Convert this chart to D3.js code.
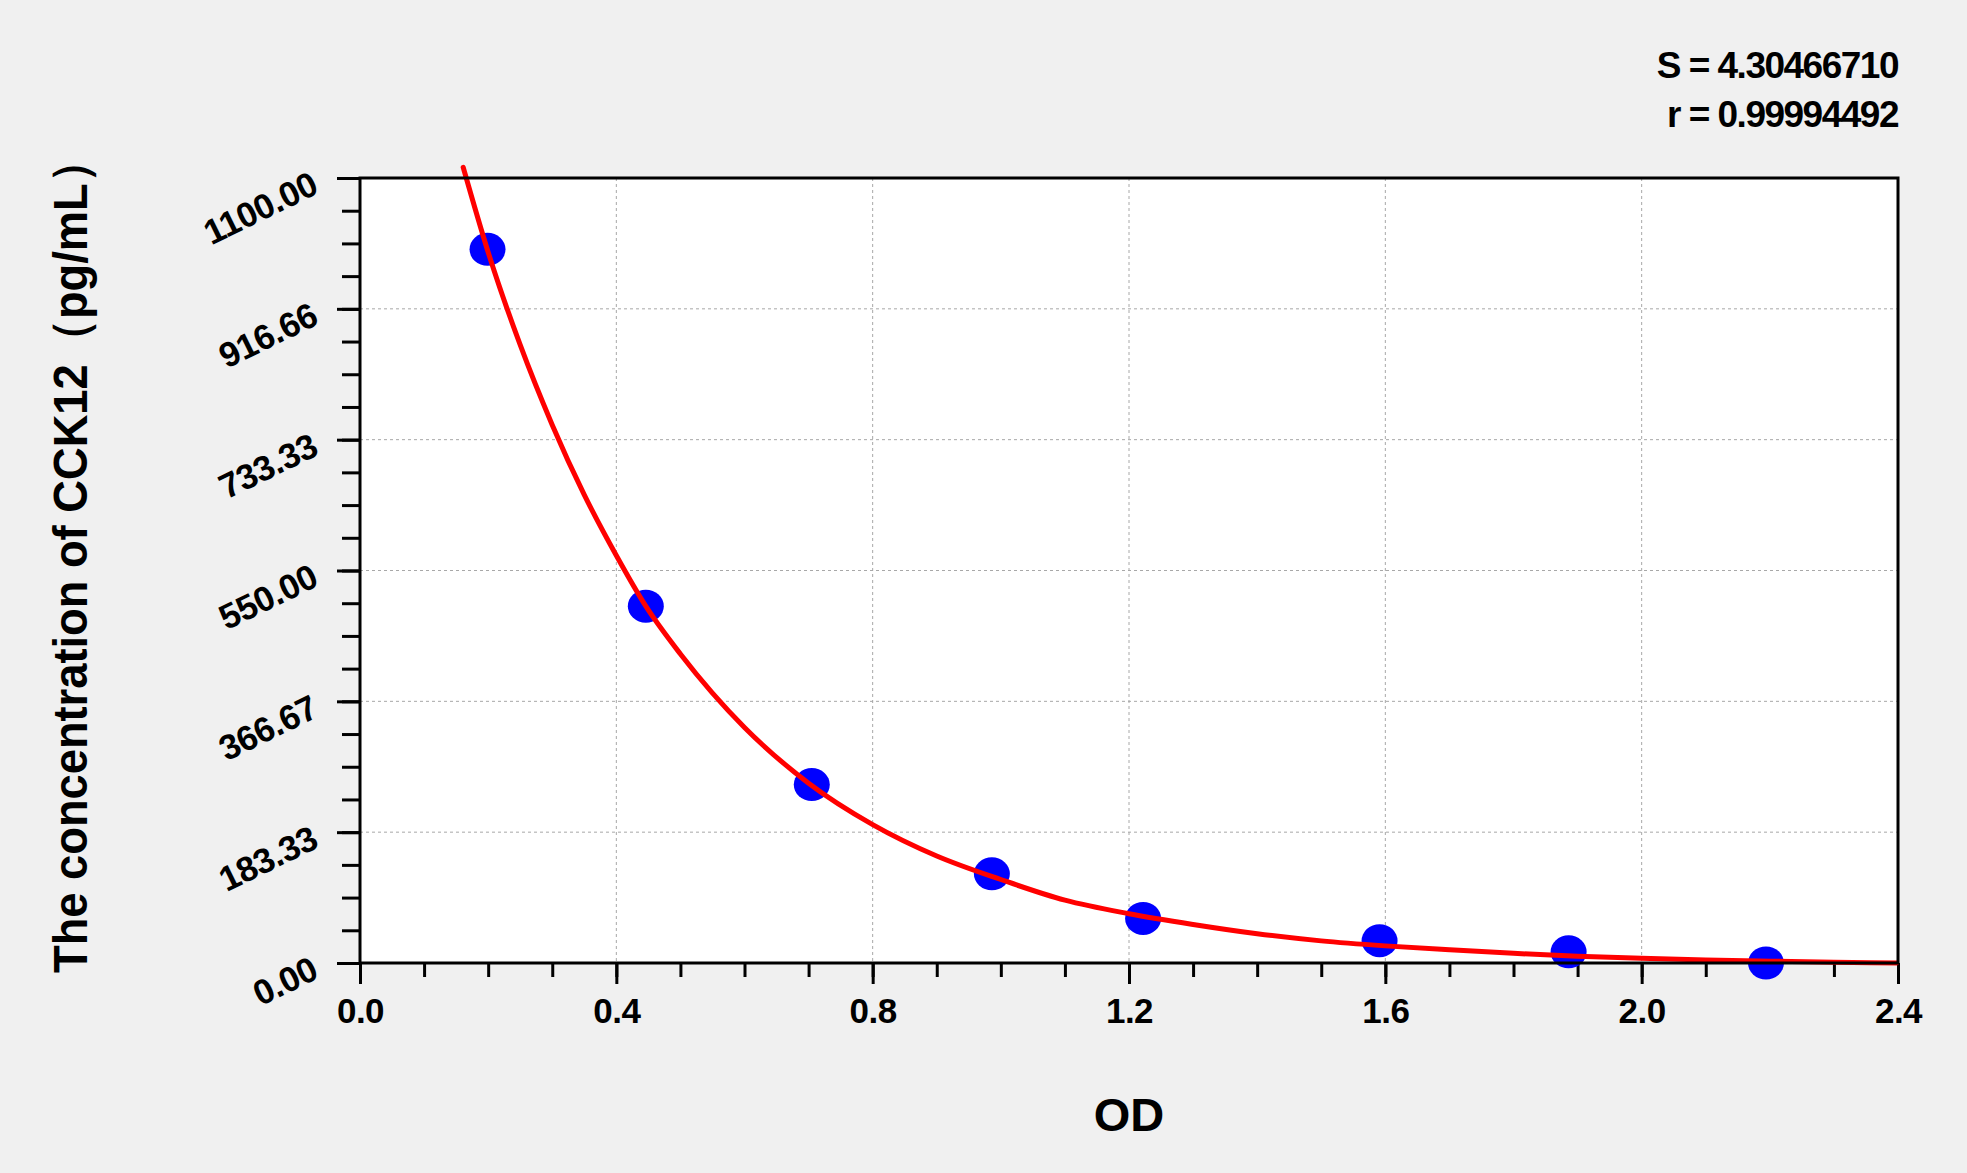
<!DOCTYPE html>
<html>
<head>
<meta charset="utf-8">
<script src="https://cdn.jsdelivr.net/npm/d3@7.9.0/dist/d3.min.js"></script>
<style>
  html, body { margin: 0; padding: 0; background: #f0f0f0; }
  svg { display: block; font-family: "Liberation Sans", Arial, sans-serif; }
</style>
</head>
<body>
<div id="chart"></div>
<script>
// standards: OD vs concentration
const odValues   = [0.199, 0.446, 0.705, 0.986, 1.222, 1.591, 1.886, 2.194];
const concValues = [1000, 500, 250, 125, 62.5, 31.25, 15.63, 0];

// fitted curve
const curveOD   = [0.161, 0.200, 0.250, 0.300, 0.350, 0.400, 0.446, 0.500, 0.600, 0.700, 0.800, 0.900, 1.000, 1.100, 1.200, 1.300, 1.400, 1.500, 1.600, 1.700, 1.800, 1.900, 2.000, 2.100, 2.200, 2.300, 2.398];
const curveConc = [1115, 996, 866, 754, 656, 571, 500, 433, 330, 252, 194, 150, 117, 88, 69, 54, 41, 31, 24, 18.5, 13.5, 9.5, 6.5, 4.2, 2.6, 1.2, 0];

const xTicks = [0.0, 0.4, 0.8, 1.2, 1.6, 2.0, 2.4];
const xTickLabels = ["0.0", "0.4", "0.8", "1.2", "1.6", "2.0", "2.4"];
const yTicks = [0, 183.33, 366.67, 550, 733.33, 916.66, 1100];
const yTickLabels = ["0.00", "183.33", "366.67", "550.00", "733.33", "916.66", "1100.00"];

const statLines = ["S = 4.30466710", "r = 0.99994492"];

const W = 1967, H = 1173;
const margin = { top: 178, right: 69, bottom: 210, left: 360 },
      width  = W - margin.left - margin.right,
      height = H - margin.top - margin.bottom;

const svg = d3.select("#chart")
  .append("svg")
    .attr("width", W)
    .attr("height", H);

svg.append("rect")
  .attr("width", W).attr("height", H)
  .attr("fill", "#f0f0f0");

const g = svg.append("g")
  .attr("transform", `translate(${margin.left},${margin.top})`);

const x = d3.scaleLinear().domain([0, 2.4]).range([0, width]);
const y = d3.scaleLinear().domain([0, 1100]).range([height, 0]);

// plot background
g.append("rect")
  .attr("width", width).attr("height", height)
  .attr("fill", "#ffffff");

// grid lines (dashed)
g.append("g")
  .selectAll("line")
  .data(xTicks.slice(1, -1))
  .join("line")
    .attr("x1", d => x(d)).attr("x2", d => x(d))
    .attr("y1", 0).attr("y2", height)
    .attr("stroke", "#a8a8a8")
    .attr("stroke-width", 1)
    .attr("stroke-dasharray", "3,3");

g.append("g")
  .selectAll("line")
  .data(yTicks.slice(1, -1))
  .join("line")
    .attr("x1", 0).attr("x2", width)
    .attr("y1", d => y(d)).attr("y2", d => y(d))
    .attr("stroke", "#a8a8a8")
    .attr("stroke-width", 1)
    .attr("stroke-dasharray", "3,3");

// minor ticks
const xMinor = d3.range(0, 25).map(i => i * 0.1);
const yMinor = d3.range(0, 25).map(i => i * 1100 / 24);

g.append("g")
  .attr("transform", `translate(0,${height})`)
  .call(d3.axisBottom(x).tickValues(xMinor).tickSize(14).tickFormat(""))
  .call(a => a.select(".domain").remove())
  .selectAll("line").attr("stroke", "#000").attr("stroke-width", 3);

g.append("g")
  .call(d3.axisLeft(y).tickValues(yMinor).tickSize(18).tickFormat(""))
  .call(a => a.select(".domain").remove())
  .selectAll("line").attr("stroke", "#000").attr("stroke-width", 3);

// major x axis
const xAxis = g.append("g")
  .attr("transform", `translate(0,${height})`)
  .call(d3.axisBottom(x).tickValues(xTicks).tickSize(21).tickPadding(14)
    .tickFormat((d, i) => xTickLabels[i]));
xAxis.select(".domain").remove();
xAxis.selectAll("line").attr("stroke", "#000").attr("stroke-width", 3);
xAxis.selectAll("text")
  .attr("fill", "#000")
  .style("font-size", "35px")
  .style("font-weight", "bold")
  .style("letter-spacing", "-0.5px");

// major y axis
const yAxis = g.append("g")
  .call(d3.axisLeft(y).tickValues(yTicks).tickSize(23)
    .tickFormat((d, i) => yTickLabels[i]));
yAxis.select(".domain").remove();
yAxis.selectAll("line").attr("stroke", "#000").attr("stroke-width", 3);
yAxis.selectAll("text")
  .attr("x", null).attr("dy", null)
  .attr("fill", "#000")
  .attr("text-anchor", "end")
  .attr("transform", "translate(-40,14) rotate(-26)")
  .style("font-size", "35px")
  .style("font-weight", "bold")
  .style("letter-spacing", "-0.5px");

// standards
g.append("g")
  .selectAll("ellipse")
  .data(odValues.map((d, i) => ({ od: d, conc: concValues[i] })))
  .join("ellipse")
    .attr("cx", d => x(d.od))
    .attr("cy", d => y(d.conc))
    .attr("rx", 18)
    .attr("ry", 16.5)
    .attr("fill", "#0000ff");

// fitted curve
const line = d3.line()
  .x(d => x(d[0]))
  .y(d => y(d[1]))
  .curve(d3.curveMonotoneX);

g.append("path")
  .datum(curveOD.map((d, i) => [d, curveConc[i]]))
  .attr("d", line)
  .attr("fill", "none")
  .attr("stroke", "#ff0000")
  .attr("stroke-width", 5)
  .attr("stroke-linecap", "round");

// frame
g.append("rect")
  .attr("width", width).attr("height", height)
  .attr("fill", "none")
  .attr("stroke", "#000")
  .attr("stroke-width", 3);

// stats
svg.append("g")
  .selectAll("text")
  .data(statLines)
  .join("text")
    .attr("x", margin.left + width)
    .attr("y", (d, i) => 78 + i * 49)
    .attr("text-anchor", "end")
    .attr("fill", "#000")
    .style("font-size", "37px")
    .style("font-weight", "bold")
    .style("letter-spacing", "-1.5px")
    .text(d => d);

// axis titles
svg.append("text")
  .attr("x", margin.left + width / 2)
  .attr("y", 1131)
  .attr("text-anchor", "middle")
  .attr("fill", "#000")
  .style("font-size", "47px")
  .style("font-weight", "bold")
  .text("OD");

svg.append("text")
  .attr("transform", "translate(87,973) rotate(-90)")
  .attr("text-anchor", "start")
  .attr("fill", "#000")
  .attr("textLength", 835)
  .attr("lengthAdjust", "spacingAndGlyphs")
  .style("font-size", "49px")
  .style("font-weight", "bold")
  .text("The concentration of CCK12（pg/mL）");
</script>
</body>
</html>
